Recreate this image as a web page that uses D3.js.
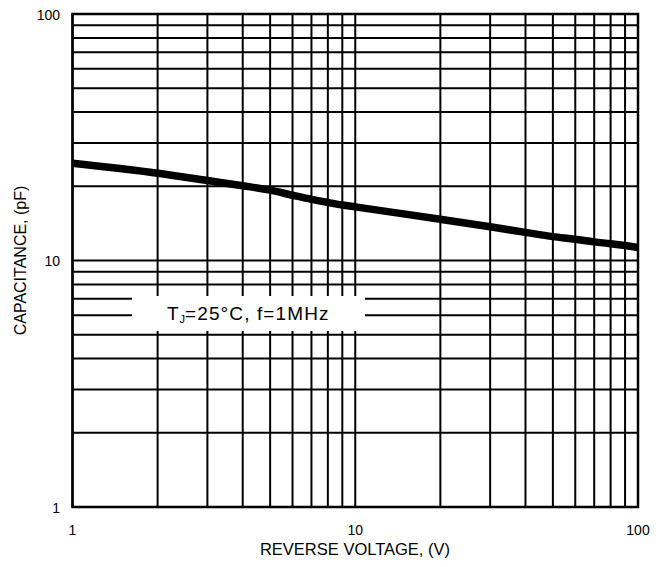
<!DOCTYPE html>
<html>
<head>
<meta charset="utf-8">
<script src="https://cdn.jsdelivr.net/npm/d3@7"></script>
<style>
  html, body { margin: 0; padding: 0; background: #fff; }
  svg { display: block; }
  text { font-family: "Liberation Sans", Arial, sans-serif; fill: #000; }
</style>
</head>
<body>
<svg id="chart" width="669" height="567"></svg>
<script>
// Junction capacitance vs reverse voltage
const voltage = [1, 2, 3, 4, 5, 6, 7, 8, 9, 10, 20, 30, 40, 50, 60, 70, 80, 90, 100];
const capacitance = [24.8, 22.6, 21.1, 20.1, 19.3, 18.4, 17.7, 17.2, 16.8, 16.5, 14.7, 13.7, 13.0, 12.5, 12.2, 11.9, 11.7, 11.5, 11.3];
const xTickLabels = [1, 10, 100];
const yTickLabels = [1, 10, 100];
const conditionLabel = { main: "T", sub: "J", rest: "=25°C, f=1MHz" };

const svg = d3.select("#chart");
const L = 72.5, R = 638, T = 14, B = 507;

const x = d3.scaleLog().domain([1, 100]).range([L, R]);
const y = d3.scaleLog().domain([1, 100]).range([B, T]);

// Grid values: 1..9 in each decade plus the upper bound
const decadeTicks = [];
[1, 10].forEach(d => { for (let k = 1; k <= 9; k++) decadeTicks.push(d * k); });
decadeTicks.push(100);

const grid = svg.append("g").attr("stroke", "#000").attr("stroke-width", 2);
grid.selectAll("line.v").data(decadeTicks).join("line")
  .attr("class", "v")
  .attr("x1", d => x(d)).attr("x2", d => x(d))
  .attr("y1", T).attr("y2", B);
grid.selectAll("line.h").data(decadeTicks).join("line")
  .attr("class", "h")
  .attr("x1", L).attr("x2", R)
  .attr("y1", d => y(d)).attr("y2", d => y(d));

// Frame
svg.append("rect")
  .attr("x", L).attr("y", T).attr("width", R - L).attr("height", B - T)
  .attr("fill", "none").attr("stroke", "#000").attr("stroke-width", 2.5);

// Capacitance curve
const line = d3.line()
  .x((d, i) => x(voltage[i]))
  .y(d => y(d))
  .curve(d3.curveMonotoneX);
svg.append("path")
  .datum(capacitance)
  .attr("d", line)
  .attr("fill", "none")
  .attr("stroke", "#000")
  .attr("stroke-width", 7.5)
  .attr("stroke-linecap", "butt");

// Test-condition label on a white box
svg.append("rect")
  .attr("x", 132).attr("y", 296).attr("width", 233).attr("height", 35)
  .attr("fill", "#fff");
svg.append("text")
  .attr("x", 167).attr("y", 320)
  .attr("font-size", 19)
  .text(conditionLabel.main);
svg.append("text")
  .attr("x", 179.5).attr("y", 323)
  .attr("font-size", 11)
  .text(conditionLabel.sub);
svg.append("text")
  .attr("x", 185).attr("y", 320)
  .attr("font-size", 19)
  .attr("textLength", 143.5)
  .attr("lengthAdjust", "spacing")
  .text(conditionLabel.rest);

// Tick labels
svg.selectAll("text.xt").data(xTickLabels).join("text")
  .attr("class", "xt")
  .attr("x", d => x(d)).attr("y", 535)
  .attr("text-anchor", "middle")
  .attr("font-size", 14)
  .text(d => d);
svg.selectAll("text.yt").data(yTickLabels).join("text")
  .attr("class", "yt")
  .attr("x", 60).attr("y", d => y(d) + 5.5)
  .attr("text-anchor", "end")
  .attr("font-size", 14)
  .text(d => d);

// Axis titles
svg.append("text")
  .attr("x", 355).attr("y", 555)
  .attr("text-anchor", "middle")
  .attr("font-size", 16.5)
  .text("REVERSE VOLTAGE, (V)");
svg.append("text")
  .attr("transform", `translate(26, ${y(10)}) rotate(-90)`)
  .attr("text-anchor", "middle")
  .attr("font-size", 16)
  .text("CAPACITANCE, (pF)");
</script>
</body>
</html>
